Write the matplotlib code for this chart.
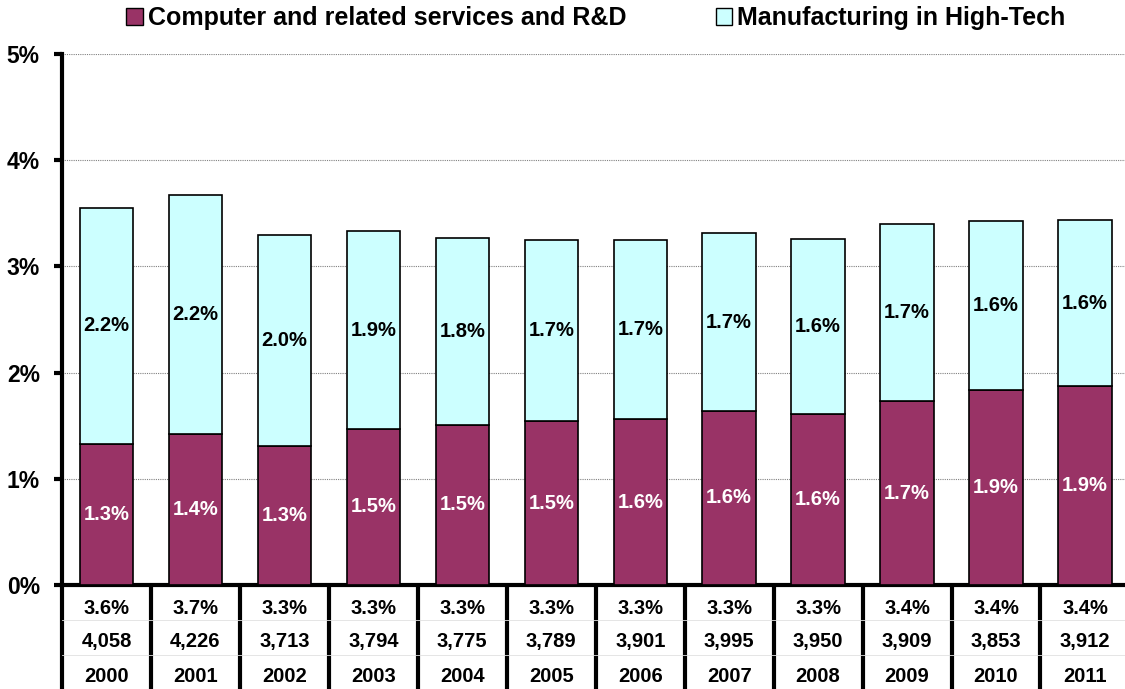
import matplotlib
matplotlib.use("Agg")
import matplotlib.pyplot as plt
from matplotlib.patches import Patch
import numpy as np

plt.rcParams['font.family'] = ['Liberation Sans', 'DejaVu Sans']
plt.rcParams['font.weight'] = 'bold'

years = ["2000", "2001", "2002", "2003", "2004", "2005", "2006", "2007", "2008", "2009", "2010", "2011"]
computer_rd = [1.33, 1.42, 1.31, 1.47, 1.51, 1.54, 1.56, 1.64, 1.61, 1.73, 1.84, 1.87]
manufacturing = [2.22, 2.25, 1.99, 1.86, 1.76, 1.71, 1.69, 1.67, 1.65, 1.67, 1.59, 1.57]
computer_labels = ["1.3%", "1.4%", "1.3%", "1.5%", "1.5%", "1.5%", "1.6%", "1.6%", "1.6%", "1.7%", "1.9%", "1.9%"]
manufacturing_labels = ["2.2%", "2.2%", "2.0%", "1.9%", "1.8%", "1.7%", "1.7%", "1.7%", "1.6%", "1.7%", "1.6%", "1.6%"]
total_labels = ["3.6%", "3.7%", "3.3%", "3.3%", "3.3%", "3.3%", "3.3%", "3.3%", "3.3%", "3.4%", "3.4%", "3.4%"]
count_labels = ["4,058", "4,226", "3,713", "3,794", "3,775", "3,789", "3,901", "3,995", "3,950", "3,909", "3,853", "3,912"]
yticks = [0, 1, 2, 3, 4, 5]
series_names = ["Computer and related services and R&D", "Manufacturing in High-Tech"]

c_maroon = "#993366"
c_cyan = "#CCFFFF"

W, H = 1125, 689
fig = plt.figure(figsize=(W / 100, H / 100), dpi=100)

x0, x1 = 62, 1125
y0, y5 = 585, 54
ax = fig.add_axes([x0 / W, (H - y0) / H, (x1 - x0) / W, (y0 - y5) / H])
x = np.arange(len(years))
xlim = (-0.5, 11.45)
ax.set_xlim(*xlim)
ax.set_ylim(0, 5)

bw = 0.6
ax.bar(x, computer_rd, bw, color=c_maroon, edgecolor="black", linewidth=1.2, zorder=3)
ax.bar(x, manufacturing, bw, bottom=computer_rd, color=c_cyan, edgecolor="black", linewidth=1.2, zorder=3)

for i in range(len(years)):
    ax.text(x[i], computer_rd[i] / 2, computer_labels[i], ha="center", va="center",
            color="white", fontsize=14.5, fontweight="bold", zorder=4)
    ax.text(x[i], computer_rd[i] + manufacturing[i] / 2, manufacturing_labels[i], ha="center",
            va="center", color="black", fontsize=14.5, fontweight="bold", zorder=4)

ax.set_yticks(yticks)
ax.set_yticklabels([f"{t}%" for t in yticks], fontsize=16.5, fontweight="bold")
ax.set_xticks([])
ax.yaxis.grid(True, color="#808080", linestyle=(0, (1, 1)), linewidth=0.8, zorder=0)
ax.set_axisbelow(True)
for s in ["top", "right"]:
    ax.spines[s].set_visible(False)
ax.spines["left"].set_linewidth(3)
ax.spines["bottom"].set_linewidth(3)
ax.tick_params(axis="y", length=6, width=3, pad=10, direction="out")

# table under the axis
tab = fig.add_axes([x0 / W, 0, (x1 - x0) / W, (H - y0) / H])
tab.set_xlim(*xlim)
tab.set_ylim(0, H - y0)
tab.axis("off")
th = H - y0
for b in np.arange(-0.5, 11.5, 1.0):
    tab.plot([b, b], [0, th], color="black", linewidth=3, solid_capstyle="butt", clip_on=False)
for yy in [H - 620, H - 655]:
    tab.plot(list(xlim), [yy, yy], color="#e0e0e0", linewidth=0.6)
for i in range(len(years)):
    tab.text(x[i], H - 608, total_labels[i], ha="center", va="center", fontsize=14.5, fontweight="bold")
    tab.text(x[i], H - 642, count_labels[i], ha="center", va="center", fontsize=14.5, fontweight="bold")
    tab.text(x[i], H - 677, years[i], ha="center", va="center", fontsize=14.5, fontweight="bold")

handles = [Patch(facecolor=c_maroon, edgecolor="black", linewidth=1),
           Patch(facecolor=c_cyan, edgecolor="black", linewidth=1)]
fig.legend(handles, series_names, loc="center", bbox_to_anchor=(596 / W, (H - 18) / H),
           ncol=2, frameon=False, prop={"size": 18, "weight": "bold"},
           handlelength=0.65, handleheight=0.65, handletextpad=0.2, columnspacing=3.6)

fig.savefig("out.png", dpi=100)
